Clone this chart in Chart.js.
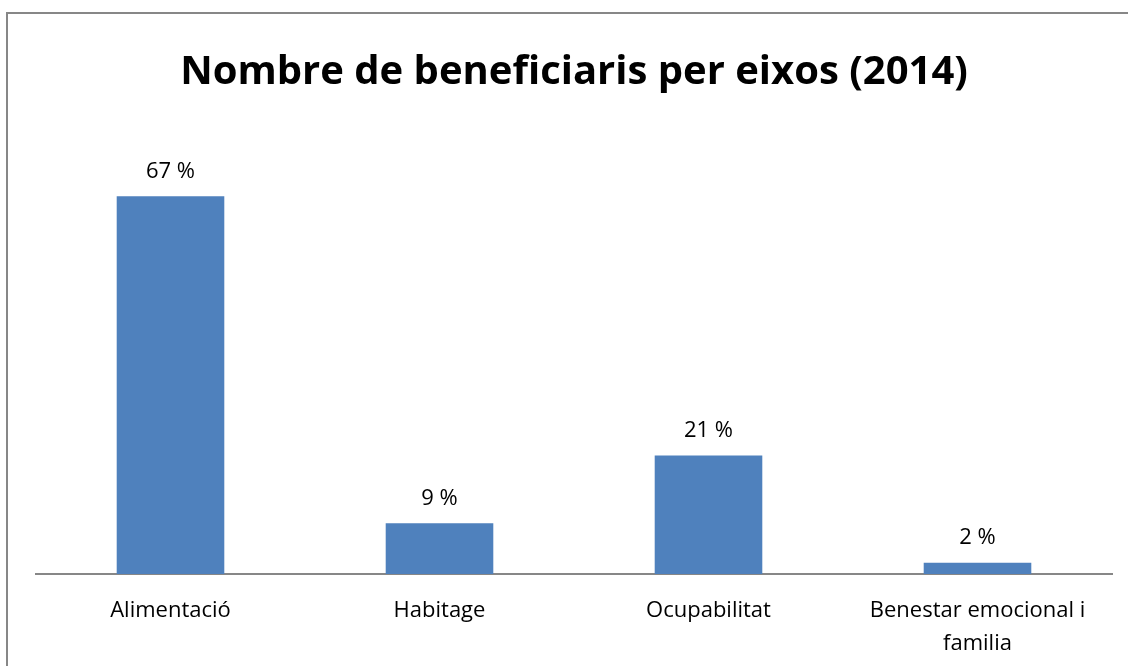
<!DOCTYPE html>
<html>
<head>
<meta charset="utf-8">
<script src="https://cdn.jsdelivr.net/npm/chart.js@4/dist/chart.umd.min.js"></script>
<style>
html,body{margin:0;padding:0;background:#fff;}
canvas{display:block;}
</style>
</head>
<body>
<canvas id="c" width="1128" height="666"></canvas>
<script>
const categories = ['Alimentació', 'Habitage', 'Ocupabilitat', ['Benestar emocional i', 'familia']];
const values = [67, 9, 21, 2];
const valueLabels = ['67 %', '9 %', '21 %', '2 %'];
const titleText = 'Nombre de beneficiaris per eixos (2014)';

const FONT = "'Open Sans', 'DejaVu Sans', sans-serif";

const frame = {
  id: 'frame',
  beforeDraw(chart) {
    const ctx = chart.ctx;
    ctx.save();
    ctx.fillStyle = '#fff';
    ctx.fillRect(0, 0, chart.width, chart.height);
    ctx.strokeStyle = '#878787';
    ctx.lineWidth = 2;
    ctx.strokeRect(7, 13, chart.width + 20, chart.height + 20);
    ctx.restore();
  }
};

const valueLabelPlugin = {
  id: 'valueLabels',
  afterDatasetsDraw(chart) {
    const ctx = chart.ctx;
    const meta = chart.getDatasetMeta(0);
    ctx.save();
    ctx.font = "22px " + FONT;
    ctx.fillStyle = '#000';
    ctx.textAlign = 'center';
    ctx.textBaseline = 'middle';
    meta.data.forEach((el, i) => {
      ctx.fillText(valueLabels[i], el.x, el.y - 25);
    });
    ctx.restore();
  }
};

new Chart(document.getElementById('c'), {
  type: 'bar',
  data: {
    labels: categories,
    datasets: [{
      data: values,
      backgroundColor: '#4F81BD',
      borderWidth: 0,
      categoryPercentage: 1,
      barPercentage: 0.4
    }]
  },
  options: {
    responsive: false,
    devicePixelRatio: 1,
    animation: false,
    layout: { padding: { left: 36, right: 16, top: 0, bottom: 0 } },
    plugins: {
      legend: { display: false },
      tooltip: { enabled: false },
      title: {
        display: true,
        text: titleText,
        color: '#000',
        font: { family: FONT, size: 40, weight: 'bold', lineHeight: 1.2 },
        padding: { top: 49, bottom: 26 }
      }
    },
    scales: {
      x: {
        grid: { display: false, drawTicks: false },
        border: { display: true, color: '#878787', width: 2 },
        ticks: {
          color: '#000',
          font: { family: FONT, size: 22, lineHeight: 1.5 },
          padding: 20,
          maxRotation: 0,
          autoSkip: false
        },
        afterFit(scale) { scale.height = 92; }
      },
      y: {
        display: false,
        min: 0,
        max: 80
      }
    }
  },
  plugins: [frame, valueLabelPlugin]
});
</script>
</body>
</html>
